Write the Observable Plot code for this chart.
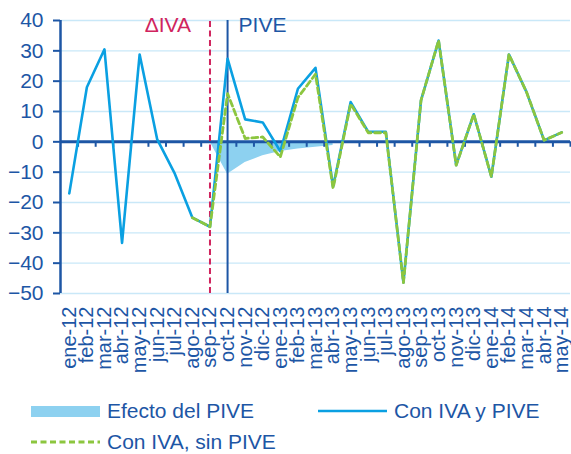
<!DOCTYPE html>
<html>
<head>
<meta charset="utf-8">
<script src="https://cdn.jsdelivr.net/npm/d3@7"></script>
<script src="https://cdn.jsdelivr.net/npm/@observablehq/plot@0.6"></script>
<style>
  body { margin: 0; background: #fff; }
  #wrap { position: relative; width: 571px; height: 454px; font-family: "Liberation Sans", Arial, sans-serif; }
  #legend { position: absolute; left: 0; top: 392px; width: 571px; height: 62px; }
  .item { position: absolute; display: flex; align-items: center; font-size: 21px; color: #1d56a5; white-space: nowrap; }
  .item svg { display: block; margin-right: 7px; }
</style>
</head>
<body>
<div id="wrap"><div id="chart"></div><div id="legend"></div></div>
<script>
// Categories (months)
const months = ["ene-12","feb-12","mar-12","abr-12","may-12","jun-12","jul-12","ago-12","sep-12","oct-12","nov-12","dic-12",
  "ene-13","feb-13","mar-13","abr-13","may-13","jun-13","jul-13","ago-13","sep-13","oct-13","nov-13","dic-13",
  "ene-14","feb-14","mar-14","abr-14","may-14"];

// Series: Con IVA y PIVE
const conIvaYPive = [-17, 18, 30.5, -33.3, 28.8, 0.8, -10.5, -25, -28, 27.4, 7.4, 6.4,
  -3.1, 17.5, 24.4, -14.8, 13.1, 3.3, 3.3, -46.4, 13.7, 33.4, -7.7, 9.1,
  -11.5, 28.8, 16.4, 0.5, 3.1];

// Series: Con IVA, sin PIVE
const conIvaSinPive = [null, null, null, null, null, null, null, -25, -28, 15.9, 1.1, 1.6,
  -5, 14.6, 22.3, -15.3, 12.5, 3.0, 3.0, -46.4, 13.7, 33.4, -7.7, 9.1,
  -11.5, 28.8, 16.4, 0.5, 3.1];

// Series: Efecto del PIVE (area)
const efectoPive = [null, null, null, null, null, null, null, null, 0, -10.7, -6.8, -4.6,
  -3.2, -2.4, -1.8, -1.2, null, null, null, null, null, null, null, null,
  null, null, null, null, null];

// Y tick values
const yTicks = [-50, -40, -30, -20, -10, 0, 10, 20, 30, 40];

// Event markers
const events = [{month: "sep-12", label: "ΔIVA"}, {month: "oct-12", label: "PIVE"}];

const idx = m => months.indexOf(m);
const rows = months.map((m, i) => ({i, m, a: conIvaYPive[i], b: conIvaSinPive[i], e: efectoPive[i]}));

const dark = "#1d56a5";
const lineBlue = "#0aa0e2";
const green = "#8cc63f";
const areaBlue = "#8dd1f0";
const grid = "#c9e8f8";
const red = "#d0245e";

const chart = Plot.plot({
  width: 571,
  height: 392,
  marginLeft: 60,
  marginRight: 1,
  marginTop: 20,
  marginBottom: 99,
  style: {fontFamily: '"Liberation Sans", Arial, sans-serif', background: "#fff"},
  x: {type: "linear", domain: [-0.5, months.length - 0.5]},
  y: {domain: [-50, 40]},
  marks: [
    Plot.ruleY(yTicks, {stroke: grid, strokeWidth: 1.3}),
    Plot.areaY(rows.filter(d => d.e != null), {x: "i", y1: 0, y2: "e", fill: areaBlue, fillOpacity: 1}),
    Plot.ruleX([-0.5], {y1: -50, y2: 40, stroke: dark, strokeWidth: 2.5}),
    Plot.ruleY([0], {stroke: dark, strokeWidth: 3}),
    Plot.ruleX(d3.range(months.length).map(i => i + 0.5), {y1: 0, y2: -1.8, stroke: dark, strokeWidth: 2}),
    Plot.ruleX([idx(events[0].month)], {y1: -50, y2: 40, stroke: red, strokeWidth: 2, strokeDasharray: "6,3.5"}),
    Plot.ruleX([idx(events[1].month)], {y1: -50, y2: 40, stroke: dark, strokeWidth: 2}),
    Plot.line(rows, {x: "i", y: "a", stroke: lineBlue, strokeWidth: 2.6}),
    Plot.line(rows.filter(d => d.b != null), {x: "i", y: "b", stroke: green, strokeWidth: 2.8, strokeDasharray: "6,3.5"}),
    Plot.text([events[0]], {x: d => idx(d.month), y: 40, text: "label", textAnchor: "end", dx: -19, dy: 4.5, fontSize: 21, fill: red}),
    Plot.text([events[1]], {x: d => idx(d.month), y: 40, text: "label", textAnchor: "start", dx: 11, dy: 4.5, fontSize: 21, fill: dark}),
    Plot.axisY({ticks: yTicks, tickSize: 7, tickPadding: 10, fontSize: 21, color: dark, strokeWidth: 2, label: null}),
    Plot.axisX({ticks: d3.range(months.length), tickFormat: i => months[i], tickRotate: -90, tickSize: 0, tickPadding: 13, fontSize: 20, color: dark, label: null})
  ]
});
document.getElementById("chart").appendChild(chart);

// Legend (HTML, below the SVG)
const legendItems = [
  {label: "Efecto del PIVE", kind: "rect", color: areaBlue, left: 31, top: 6},
  {label: "Con IVA y PIVE", kind: "line", color: lineBlue, left: 318, top: 6},
  {label: "Con IVA, sin PIVE", kind: "dash", color: green, left: 31, top: 37}
];
const legend = document.getElementById("legend");
for (const it of legendItems) {
  const div = document.createElement("div");
  div.className = "item";
  div.style.left = it.left + "px";
  div.style.top = it.top + "px";
  let sw;
  if (it.kind === "rect") sw = `<svg width="69" height="26"><rect x="0" y="8" width="69" height="11" fill="${it.color}"/></svg>`;
  else if (it.kind === "line") sw = `<svg width="69" height="26"><line x1="0" x2="69" y1="13" y2="13" stroke="${it.color}" stroke-width="2.6"/></svg>`;
  else sw = `<svg width="69" height="26"><line x1="0" x2="69" y1="13" y2="13" stroke="${it.color}" stroke-width="2.8" stroke-dasharray="6,3.5"/></svg>`;
  div.innerHTML = sw + `<span>${it.label}</span>`;
  legend.appendChild(div);
}
</script>
</body>
</html>
